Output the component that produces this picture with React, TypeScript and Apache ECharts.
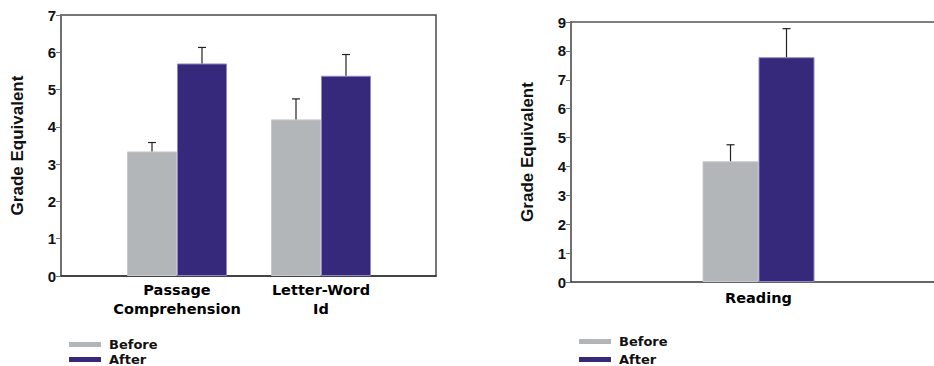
import React, { useEffect, useRef } from 'react';
import * as echarts from 'echarts';

const leftCategories = ['Passage\nComprehension', 'Letter-Word\nId'];
const leftBefore = [3.34, 4.2];
const leftAfter = [5.7, 5.37];
const leftBeforeErr = [0.24, 0.55];
const leftAfterErr = [0.43, 0.57];
const leftYMax = 7;

const rightCategories = ['Reading'];
const rightBefore = [4.18];
const rightAfter = [7.78];
const rightBeforeErr = [0.57];
const rightAfterErr = [0.99];
const rightYMax = 9;

const seriesNames = ['Before', 'After'];
const yAxisName = 'Grade Equivalent';

const GRAY = '#b3b6b9';
const NAVY = '#36297b';
const LABEL_FONT = 'DejaVu Sans';
const TICK_FONT = 'Liberation Sans';

function errSeries(means: number[], errs: number[], axisIndex: number, offset: number) {
  return {
    type: 'custom',
    xAxisIndex: axisIndex,
    yAxisIndex: axisIndex,
    z: 10,
    silent: true,
    data: means.map((m, i) => [i, m, m + errs[i]]),
    renderItem: (_params: any, api: any) => {
      const base = api.coord([api.value(0), api.value(1)]);
      const top = api.coord([api.value(0), api.value(2)]);
      const x = base[0] + offset;
      const style = { stroke: '#222', lineWidth: 1.2 };
      return {
        type: 'group',
        children: [
          { type: 'line', shape: { x1: x, y1: base[1], x2: x, y2: top[1] }, style },
          { type: 'line', shape: { x1: x - 4, y1: top[1], x2: x + 4, y2: top[1] }, style },
        ],
      };
    },
  };
}

const valueAxisVisible = (gridIndex: number, max: number) => ({
  gridIndex,
  type: 'value',
  min: 0,
  max,
  interval: 1,
  name: yAxisName,
  nameLocation: 'middle',
  nameGap: 35,
  nameTextStyle: { fontFamily: TICK_FONT, fontWeight: 'bold', fontSize: 17, color: '#111' },
  axisLine: { show: true, lineStyle: { color: '#707070', width: 2 } },
  axisTick: { show: true, inside: false, length: 5, lineStyle: { color: '#707070', width: 1 } },
  axisLabel: { fontFamily: TICK_FONT, fontWeight: 'bold', fontSize: 15, color: '#111', margin: 5 },
  splitLine: { show: false },
});

const hiddenValueAxis = (gridIndex: number, max: number) => ({
  gridIndex, type: 'value', min: 0, max, show: false, splitLine: { show: false },
});

const catLabel = (margin: number) => ({
  show: true,
  interval: 0,
  margin,
  fontFamily: LABEL_FONT,
  fontWeight: 'bold',
  fontSize: 14.5,
  lineHeight: 19,
  color: '#000',
});

const frameX = (gridIndex: number, position: string, color: string) => ({
  gridIndex, type: 'category', data: [''], position,
  axisLine: { show: true, lineStyle: { color, width: 1.5 } },
  axisTick: { show: false }, axisLabel: { show: false },
});

export default function App() {
  const ref = useRef<HTMLDivElement>(null);
  useEffect(() => {
    if (!ref.current) return;
    const chart = echarts.init(ref.current, undefined, { renderer: 'svg' });
    const legendCommon = {
      orient: 'vertical',
      icon: 'rect',
      itemWidth: 32,
      itemHeight: 5,
      padding: 0,
      height: 40,
      data: seriesNames,
      selectedMode: false,
      itemStyle: { borderWidth: 0 },
      textStyle: { fontFamily: LABEL_FONT, fontWeight: 'bold', fontSize: 13, color: '#111', padding: [0, 0, 0, 3] },
    };
    chart.setOption({
      animation: false,
      backgroundColor: '#fff',
      legend: [
        { ...legendCommon, left: 69, top: 338, itemGap: 2 },
        { ...legendCommon, left: 579, top: 335, itemGap: 5 },
      ],
      grid: [
        { left: 61, top: 15, width: 375, height: 261, show: true, borderColor: '#4a4a4a', borderWidth: 1.5, backgroundColor: 'transparent' },
        { left: 105, top: 15, width: 288, height: 261 },
        { left: 571, top: 22, right: 0, height: 260 },
        { left: 671, top: 22, width: 175, height: 260 },
      ],
      xAxis: [
        frameX(0, 'bottom', '#333'),
        { gridIndex: 1, type: 'category', data: leftCategories, axisLine: { show: false }, axisTick: { show: false }, axisLabel: catLabel(4) },
        frameX(2, 'bottom', '#333'),
        frameX(2, 'top', '#555'),
        { gridIndex: 3, type: 'category', data: rightCategories, axisLine: { show: false }, axisTick: { show: false }, axisLabel: catLabel(6) },
      ],
      yAxis: [
        valueAxisVisible(0, leftYMax),
        hiddenValueAxis(1, leftYMax),
        valueAxisVisible(2, rightYMax),
        hiddenValueAxis(3, rightYMax),
      ],
      series: [
        { type: 'bar', name: seriesNames[0], xAxisIndex: 1, yAxisIndex: 1, data: leftBefore, barWidth: 50, barGap: '0%', itemStyle: { color: GRAY, borderColor: '#c6c8ca', borderWidth: 1 } },
        { type: 'bar', name: seriesNames[1], xAxisIndex: 1, yAxisIndex: 1, data: leftAfter, barWidth: 50, barGap: '0%', itemStyle: { color: NAVY, borderColor: '#8f88bf', borderWidth: 1 } },
        { type: 'bar', name: seriesNames[0], xAxisIndex: 4, yAxisIndex: 3, data: rightBefore, barWidth: 56, barGap: '0%', itemStyle: { color: GRAY, borderColor: '#c6c8ca', borderWidth: 1 } },
        { type: 'bar', name: seriesNames[1], xAxisIndex: 4, yAxisIndex: 3, data: rightAfter, barWidth: 56, barGap: '0%', itemStyle: { color: NAVY, borderColor: '#8f88bf', borderWidth: 1 } },
        errSeries(leftBefore, leftBeforeErr, 1, -25),
        errSeries(leftAfter, leftAfterErr, 1, 25),
        { ...errSeries(rightBefore, rightBeforeErr, 0, -28), xAxisIndex: 4, yAxisIndex: 3 },
        { ...errSeries(rightAfter, rightAfterErr, 0, 28), xAxisIndex: 4, yAxisIndex: 3 },
      ],
    });
    return () => chart.dispose();
  }, []);
  return <div ref={ref} style={{ position: 'absolute', left: 0, top: 0, width: 934, height: 366 }} />;
}
